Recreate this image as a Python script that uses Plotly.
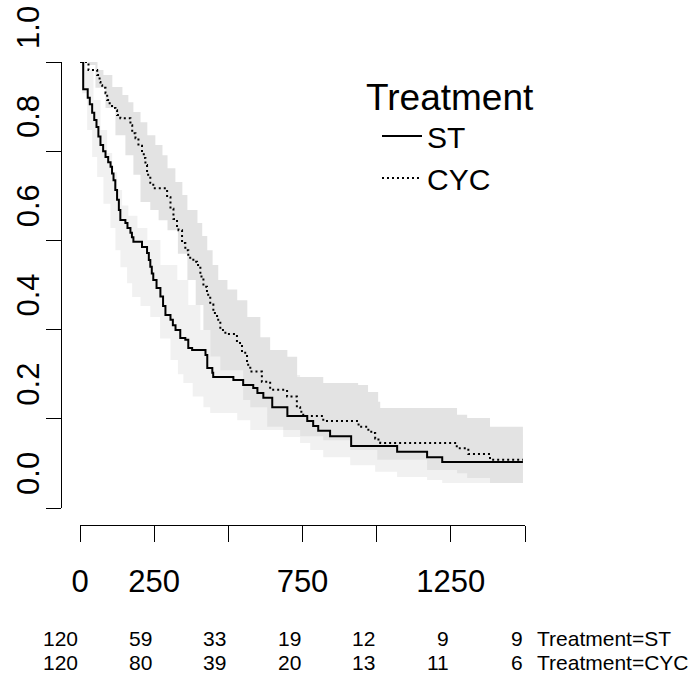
import plotly.graph_objects as go

# ---------------- data ----------------
# Kaplan-Meier step points (time, survival after the drop)
st_time = [0, 10.8, 26, 33, 41, 48, 55.6, 62, 69, 78, 86, 95, 103, 108, 113, 119, 125, 131, 136,
           153, 160, 170, 175, 180, 209, 226, 232, 237, 242, 247, 258, 271, 280, 288, 305, 313,
           322, 338, 355, 365, 378, 423, 429, 446, 449, 517, 550, 584, 598, 618, 648, 699, 766,
           786, 803, 843, 914, 1069, 1170, 1221, 1493]
st_surv = [1.0, 0.939, 0.920, 0.905, 0.886, 0.870, 0.854, 0.833, 0.814, 0.800, 0.787, 0.775, 0.765,
           0.750, 0.735, 0.713, 0.691, 0.668, 0.646, 0.639, 0.628, 0.617, 0.607, 0.597, 0.585,
           0.572, 0.556, 0.541, 0.526, 0.511, 0.493, 0.474, 0.453, 0.433, 0.422, 0.410, 0.399,
           0.381, 0.377, 0.359, 0.354, 0.343, 0.314, 0.303, 0.294, 0.287, 0.276, 0.269, 0.258,
           0.247, 0.226, 0.206, 0.195, 0.184, 0.173, 0.161, 0.139, 0.126, 0.114, 0.103, 0.103]

cyc_time = [0, 28.6, 57.9, 66, 69, 74.7, 85.9, 91.6, 100, 108, 119.5, 125, 136, 170, 176, 187, 197,
            209, 215, 220.5, 226, 237, 247, 293.6, 305, 315, 327, 332, 344, 355, 365, 382, 394.6,
            405.7, 416, 428, 439, 449.5, 462, 473, 490, 529, 546, 563, 574, 613, 641, 698, 731,
            742, 752.5, 820, 939, 972, 989, 995, 1006, 1012, 1270, 1309, 1382, 1493]
cyc_surv = [1.0, 0.982, 0.971, 0.955, 0.948, 0.942, 0.930, 0.915, 0.905, 0.897, 0.892, 0.881, 0.874,
            0.858, 0.840, 0.829, 0.812, 0.798, 0.785, 0.769, 0.747, 0.729, 0.717, 0.697, 0.671,
            0.648, 0.630, 0.623, 0.594, 0.578, 0.561, 0.552, 0.545, 0.519, 0.496, 0.478, 0.456,
            0.437, 0.422, 0.399, 0.390, 0.370, 0.348, 0.321, 0.306, 0.283, 0.265, 0.250, 0.226,
            0.216, 0.206, 0.195, 0.182, 0.171, 0.168, 0.156, 0.149, 0.146, 0.134, 0.121, 0.108,
            0.108]

# Confidence bands (step edges)
st_lo_time = [0, 7.4, 24.2, 41.1, 57.9, 79.1, 102.7, 119.5, 136.4, 158.9, 175.8, 204, 237, 270,
              305, 330, 348.5, 380, 416, 439, 530, 574, 685, 742, 776, 820, 911, 995, 1069, 1170,
              1221, 1493]
st_lo = [1.0, 0.930, 0.8475, 0.787, 0.742, 0.682, 0.628, 0.578, 0.540, 0.504, 0.473, 0.453, 0.428,
         0.380, 0.332, 0.300, 0.280, 0.250, 0.226, 0.213, 0.197, 0.175, 0.159, 0.146, 0.130, 0.114,
         0.096, 0.081, 0.0695, 0.063, 0.056, 0.056]
st_hi_time = [0, 18.5, 45.5, 69, 91.6, 108.4, 125.3, 142, 163, 193.6, 227, 271, 328, 365, 405.7,
              439, 507, 608, 742, 911, 1079, 1247, 1493]
st_hi = [1.0, 0.982, 0.915, 0.8475, 0.796, 0.753, 0.713, 0.678, 0.655, 0.628, 0.601, 0.545, 0.511,
         0.455, 0.399, 0.339, 0.332, 0.298, 0.265, 0.220, 0.186, 0.164, 0.152]

cyc_lo_time = [0, 28.6, 52, 86, 119.5, 153, 180, 204, 237, 265, 295, 330, 362, 390, 416, 439, 473,
               550, 574, 631, 685, 742, 820, 911, 1002, 1170, 1271, 1305, 1382, 1493]
cyc_lo = [1.0, 0.993, 0.942, 0.897, 0.836, 0.791, 0.747, 0.686, 0.668, 0.645, 0.623, 0.570, 0.511,
          0.455, 0.399, 0.339, 0.309, 0.242, 0.226, 0.182, 0.175, 0.161, 0.152, 0.130, 0.108,
          0.085, 0.078, 0.067, 0.056, 0.056]
cyc_hi_time = [0, 59, 79, 109, 143, 163, 180, 204, 227, 254, 278, 295, 321.5, 345, 362, 396, 412,
               429, 447, 466, 497, 530, 564, 608, 641, 699, 732, 820, 937.5, 971, 1005, 1012, 1271,
               1305, 1382, 1493]
cyc_hi = [1.0, 0.982, 0.971, 0.944, 0.926, 0.910, 0.888, 0.865, 0.836, 0.814, 0.791, 0.762, 0.731,
          0.702, 0.668, 0.639, 0.610, 0.578, 0.545, 0.511, 0.490, 0.466, 0.428, 0.383, 0.354, 0.339,
          0.294, 0.280, 0.276, 0.260, 0.238, 0.224, 0.209, 0.202, 0.182, 0.182]

# Axis ticks and risk table
x_ticks = [0, 250, 500, 750, 1000, 1250, 1500]
x_tick_text = ["0", "250", "", "750", "", "1250", ""]
y_ticks = [0.0, 0.2, 0.4, 0.6, 0.8, 1.0]
y_tick_text = ["0.0", "0.2", "0.4", "0.6", "0.8", "1.0"]
risk_times = [0, 250, 500, 750, 1000, 1250, 1500]
risk_st = [120, 59, 33, 19, 12, 9, 9]
risk_cyc = [120, 80, 39, 20, 13, 11, 6]
risk_labels = ["Treatment=ST", "Treatment=CYC"]

FONT = "Liberation Sans, Arial, Helvetica, sans-serif"
LIGHT = "#F1F1F1"
DARK = "#E3E3E3"

fig = go.Figure()

# ST band (light)
fig.add_trace(go.Scatter(x=st_hi_time, y=st_hi, mode="lines", line=dict(width=0, shape="hv"),
                         showlegend=False, hoverinfo="skip"))
fig.add_trace(go.Scatter(x=st_lo_time, y=st_lo, mode="lines", line=dict(width=0, shape="hv"),
                         fill="tonexty", fillcolor=LIGHT, showlegend=False, hoverinfo="skip"))
# CYC band (darker)
fig.add_trace(go.Scatter(x=cyc_hi_time, y=cyc_hi, mode="lines", line=dict(width=0, shape="hv"),
                         showlegend=False, hoverinfo="skip"))
fig.add_trace(go.Scatter(x=cyc_lo_time, y=cyc_lo, mode="lines", line=dict(width=0, shape="hv"),
                         fill="tonexty", fillcolor=DARK, showlegend=False, hoverinfo="skip"))

# Curves
fig.add_trace(go.Scatter(x=st_time, y=st_surv, mode="lines", name="ST",
                         line=dict(color="black", width=2, shape="hv")))
fig.add_trace(go.Scatter(x=cyc_time, y=cyc_surv, mode="lines", name="CYC",
                         line=dict(color="black", width=2, shape="hv", dash="2px,3px")))

W, H = 691, 677
ml, mr, mt, mb = 61, 166, 62, 152
pw = W - ml - mr
ph = H - mt - mb

# Risk table
row_px = [638, 662]
for row, (vals, lab) in enumerate([(risk_st, risk_labels[0]), (risk_cyc, risk_labels[1])]):
    yp = -(row_px[row] - (H - mb)) / ph
    for t, v in zip(risk_times, vals):
        fig.add_annotation(x=t, y=yp, xref="x", yref="paper", text=str(v), showarrow=False,
                           xanchor="right", yanchor="middle", font=dict(size=21, color="black", family=FONT))
    fig.add_annotation(x=1500, y=yp, xref="x", yref="paper", text=lab, showarrow=False,
                       xanchor="left", yanchor="middle", xshift=10,
                       font=dict(size=21, color="black", family=FONT))

fig.update_layout(
    width=W, height=H,
    margin=dict(l=ml, r=mr, t=mt, b=mb, autoexpand=False),
    paper_bgcolor="white", plot_bgcolor="white",
    font=dict(family=FONT, color="black"),
    xaxis=dict(domain=[19 / pw, 1], range=[0, 1500], anchor="free", position=0,
               showline=True, linecolor="black", linewidth=1, ticks="outside", ticklen=16,
               tickcolor="black", tickwidth=1, tickvals=x_ticks, ticktext=x_tick_text,
               tickfont=dict(size=31, family=FONT), ticklabelstandoff=13, automargin=False,
               showgrid=False, zeroline=False),
    yaxis=dict(domain=[17 / ph, 1], range=[0, 1], anchor="free", position=0,
               showline=True, linecolor="black", linewidth=1, ticks="outside", ticklen=15,
               tickcolor="black", tickwidth=1, tickvals=y_ticks, ticktext=y_tick_text,
               tickangle=-90, tickfont=dict(size=31, family=FONT), ticklabelshift=-30,
               ticklabelstandoff=-5, automargin=False, showgrid=False, zeroline=False),
    legend=dict(x=(364 - ml) / pw, y=(H - mb - 62) / ph, xanchor="left", yanchor="top",
                bgcolor="rgba(0,0,0,0)", borderwidth=0, traceorder="normal", indentation=13,
                title=dict(text="Treatment", font=dict(size=37, family=FONT), side="top center"),
                font=dict(size=30, family=FONT, color="black"), itemwidth=40,
                tracegroupgap=0),
    showlegend=True,
)

fig.write_html("out.html")
